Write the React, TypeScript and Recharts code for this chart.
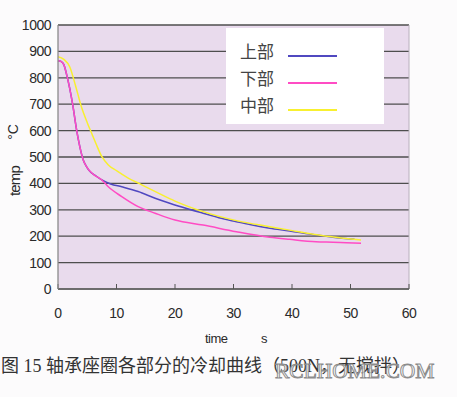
import React from "react";
import {
  LineChart,
  Line,
  XAxis,
  YAxis,
  CartesianGrid,
  Legend,
  ReferenceLine,
} from "recharts";

// time (s) vs temperature (°C)
const topTime = [0, 0.5, 1, 1.5, 2.5, 3.2, 3.5, 4.3, 4.9, 5.2, 6.5, 7.5, 9, 10.9, 13.7, 16.6, 19.1, 22, 24.8, 27.5, 30.5, 33, 36.2, 39.6, 43, 47, 50.7];
const topTemp = [865, 862, 850, 810, 700, 600, 564, 490, 463, 452, 428, 413, 398, 387, 369, 344, 325, 305, 287, 270, 255, 243, 230, 220, 208, 196, 188];

const bottomTime = [0, 0.5, 1, 1.5, 2.5, 3.2, 3.5, 4.3, 4.9, 6, 7.5, 8.6, 10.9, 13.7, 16.6, 20, 24.8, 30.5, 36.2, 39.6, 44.1, 47, 49.3, 51.8];
const bottomTemp = [865, 862, 850, 810, 700, 600, 564, 490, 463, 435, 413, 387, 350, 312, 287, 261, 242, 217, 196, 188, 179, 177, 175, 173];

const middleTime = [0, 1, 2, 3, 4, 5, 5.75, 6.5, 7.5, 8.6, 10, 12, 14, 17, 20, 24.8, 30.5, 36.2, 39.6, 43.6, 48.1, 51.8];
const middleTemp = [880, 870, 842, 770, 690, 630, 590, 550, 501, 470, 448, 420, 398, 365, 333, 293, 259, 236, 223, 207, 194, 186];

const seriesNames = ["上部", "下部", "中部"];
const seriesColors = ["#5048c0", "#ff4cc4", "#f8f030"];

const xTicks = [0, 10, 20, 30, 40, 50, 60];
const yTicks = [0, 100, 200, 300, 400, 500, 600, 700, 800, 900, 1000];

const toPoints = (t: number[], v: number[]) => t.map((x, i) => ({ t: x, v: v[i] }));
const seriesData = [
  toPoints(topTime, topTemp),
  toPoints(bottomTime, bottomTemp),
  toPoints(middleTime, middleTemp),
];

const tickFont = {
  fontFamily: "'Liberation Sans Narrow', 'Liberation Sans', Arial, sans-serif",
  fontSize: 14,
  letterSpacing: -0.5,
  fill: "#2a2a2a",
};

const LegendBox = (props: any) => {
  const payload = props.payload || [];
  return (
    <div
      style={{
        width: 158,
        height: 96,
        background: "#ffffff",
        boxSizing: "border-box",
        paddingTop: 9,
        paddingLeft: 14,
        textAlign: "left",
      }}
    >
      {payload.map((p: any) => (
        <div key={p.value} style={{ display: "flex", alignItems: "center", height: 27 }}>
          <span
            style={{
              fontFamily: "'Noto Sans CJK SC', sans-serif",
              fontSize: 17,
              color: "#444",
              width: 48,
              lineHeight: "20px",
            }}
          >
            {p.value}
          </span>
          <span
            style={{
              display: "inline-block",
              width: 49,
              height: 2,
              background: p.color,
              marginTop: 10,
            }}
          />
        </div>
      ))}
    </div>
  );
};

export default function App() {
  return (
    <div
      style={{
        position: "absolute",
        left: 0,
        top: 0,
        width: 457,
        height: 397,
        background: "#fcfbfc",
        overflow: "hidden",
      }}
    >
      <LineChart
        width={457}
        height={397}
        margin={{ top: 25, right: 48, bottom: 78, left: 0 }}
      >
        <CartesianGrid
          vertical={false}
          stroke="#4e4e4e"
          strokeWidth={1.3}
          fill="#e9dbed"
          fillOpacity={1}
        />
        <XAxis
          dataKey="t"
          type="number"
          domain={[0, 60]}
          ticks={xTicks}
          allowDuplicatedCategory={false}
          height={30}
          tickSize={-5}
          tickMargin={24}
          tick={tickFont}
          stroke="#555"
          axisLine={{ stroke: "#6a6a6a", strokeWidth: 1.3 }}
          tickLine={{ stroke: "#555" }}
        />
        <YAxis
          dataKey="v"
          type="number"
          domain={[0, 1000]}
          ticks={yTicks}
          width={58}
          tickSize={0}
          tickMargin={7}
          tick={tickFont}
          axisLine={{ stroke: "#8a8a8a", strokeWidth: 1.3 }}
          tickLine={false}
        />
        <ReferenceLine x={60} stroke="#b8b0bc" strokeWidth={1} />
        <Legend
          layout="horizontal"
          align="center"
          verticalAlign="middle"
          content={<LegendBox />}
          wrapperStyle={{ position: "absolute", left: 226, top: 28, width: 158, height: 96 }}
        />
        {seriesData.map((d, i) => (
          <Line
            key={seriesNames[i]}
            data={d}
            dataKey="v"
            name={seriesNames[i]}
            type="monotone"
            stroke={seriesColors[i]}
            strokeWidth={1.5}
            dot={false}
            isAnimationActive={false}
          />
        ))}
      </LineChart>

      <div
        style={{
          position: "absolute",
          left: 14,
          top: 181,
          transform: "translate(-50%, -50%) rotate(-90deg)",
          fontFamily: "'Liberation Sans', Arial, sans-serif",
          fontSize: 15,
          color: "#2a2a2a",
          letterSpacing: -0.8,
          whiteSpace: "nowrap",
        }}
      >
        temp
      </div>
      <div
        style={{
          position: "absolute",
          left: 13,
          top: 132,
          transform: "translate(-50%, -50%) rotate(-90deg)",
          fontFamily: "'Liberation Sans', Arial, sans-serif",
          fontSize: 14,
          color: "#2a2a2a",
          whiteSpace: "nowrap",
        }}
      >
        °C
      </div>
      <div
        style={{
          position: "absolute",
          left: 205,
          top: 331,
          fontFamily: "'Liberation Sans', Arial, sans-serif",
          fontSize: 13,
          color: "#2a2a2a",
          letterSpacing: -0.5,
          whiteSpace: "nowrap",
        }}
      >
        time
      </div>
      <div
        style={{
          position: "absolute",
          left: 261,
          top: 331,
          fontFamily: "'Liberation Sans', Arial, sans-serif",
          fontSize: 13,
          color: "#2a2a2a",
        }}
      >
        s
      </div>
      <div
        style={{
          position: "absolute",
          left: 1,
          top: 354,
          fontFamily: "'Liberation Serif', 'Noto Sans CJK SC', serif",
          fontSize: 18,
          lineHeight: "24px",
          color: "#333",
          whiteSpace: "nowrap",
        }}
      >
        图 15 轴承座圈各部分的冷却曲线（500N，无搅拌）
      </div>
      <div
        style={{
          position: "absolute",
          left: 275,
          top: 358,
          fontFamily: "'Liberation Serif', serif",
          fontSize: 21.5,
          lineHeight: "26px",
          color: "rgba(255,255,255,0.75)",
          WebkitTextStroke: "1px #8c8c8c",
          whiteSpace: "nowrap",
        }}
      >
        RCLHOME.COM
      </div>
    </div>
  );
}
